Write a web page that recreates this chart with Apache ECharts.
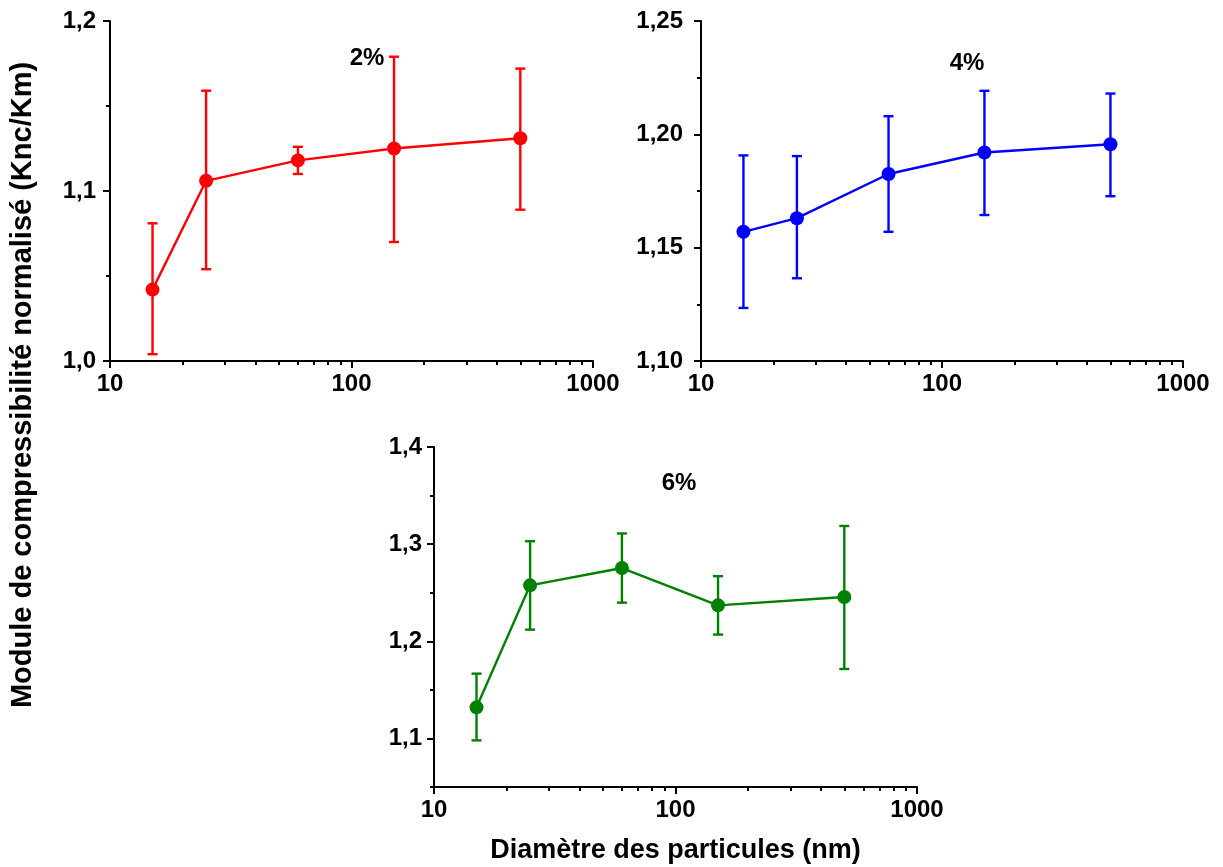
<!DOCTYPE html>
<html>
<head>
<meta charset="utf-8">
<script src="https://cdn.jsdelivr.net/npm/echarts@6/dist/echarts.min.js"></script>
<style>
html,body{margin:0;padding:0;background:#fff;}
#chart{width:1223px;height:867px;}
</style>
</head>
<body>
<div id="chart"></div>
<script>
// ---- data ----
const diameters = [15, 25, 60, 150, 500];

const mean2 = [1.042, 1.106, 1.118, 1.125, 1.131];
const low2  = [1.004, 1.054, 1.110, 1.070, 1.089];
const high2 = [1.081, 1.159, 1.126, 1.179, 1.172];

const mean4 = [1.157, 1.163, 1.1825, 1.192, 1.1956];
const low4  = [1.1234, 1.1365, 1.157, 1.1644, 1.1727];
const high4 = [1.1907, 1.1904, 1.208, 1.2192, 1.218];

const mean6 = [1.132, 1.2576, 1.2754, 1.237, 1.2456];
const low6  = [1.098, 1.212, 1.2398, 1.2069, 1.1715];
const high6 = [1.1667, 1.303, 1.311, 1.267, 1.3187];

const panelLabels = ['2%', '4%', '6%'];
const xTitle = 'Diamètre des particules (nm)';
const yTitle = 'Module de compressibilité normalisé (Knc/Km)';
const yTicks6 = [1.1, 1.2, 1.3, 1.4];

// ---- chart ----
const FONT = '"Liberation Sans", Arial, sans-serif';
const BLACK = '#000';
const colors = ['#ff0000', '#0000ff', '#008000'];

const chart = echarts.init(document.getElementById('chart'), null, {renderer: 'canvas'});

const grids = [
  {left: 110, top: 21, width: 483, height: 340},
  {left: 701, top: 21, width: 482, height: 340},
  {left: 434, top: 447, width: 483, height: 340}
];

function xAxisFor(i) {
  const ax = {
    type: 'log', logBase: 10, gridIndex: i, min: 10, max: 1000,
    axisLine: {lineStyle: {color: BLACK, width: 2}},
    axisTick: {length: 7, lineStyle: {color: BLACK, width: 2}},
    minorTick: {show: true, splitNumber: 9, length: 4, lineStyle: {color: BLACK, width: 2}},
    splitLine: {show: false}, minorSplitLine: {show: false},
    axisLabel: {color: BLACK, fontSize: 24, fontWeight: 'bold', fontFamily: FONT, margin: 11,
      formatter: v => String(Math.round(v))}
  };
  if (i === 2) {
    ax.name = xTitle;
    ax.nameLocation = 'middle';
    ax.nameGap = 50;
    ax.nameTextStyle = {color: BLACK, fontSize: 27, fontWeight: 'bold', fontFamily: FONT};
  }
  return ax;
}

const yBase = {
  type: 'value', position: 'left',
  axisLine: {show: true, lineStyle: {color: BLACK, width: 2}},
  axisTick: {show: true, length: 7, lineStyle: {color: BLACK, width: 2}},
  splitLine: {show: false}, minorSplitLine: {show: false}
};
const yLab = (m, d) => ({color: BLACK, fontSize: 24, fontWeight: 'bold', fontFamily: FONT, margin: m,
  formatter: v => Number(v).toFixed(d).replace('.', ',')});

const yAxes = [
  Object.assign({}, yBase, {gridIndex: 0, min: 1.0, max: 1.2, interval: 0.1,
    minorTick: {show: true, splitNumber: 2, length: 4, lineStyle: {color: BLACK, width: 2}},
    axisLabel: yLab(14, 1)}),
  Object.assign({}, yBase, {gridIndex: 1, min: 1.10, max: 1.25, interval: 0.05,
    minorTick: {show: true, splitNumber: 2, length: 4, lineStyle: {color: BLACK, width: 2}},
    axisLabel: yLab(18, 2)}),
  Object.assign({}, yBase, {gridIndex: 2, min: 1.05, max: 1.4,
    axisTick: {show: true, length: 7, customValues: yTicks6, lineStyle: {color: BLACK, width: 2}},
    axisLabel: Object.assign(yLab(12, 1), {customValues: yTicks6})}),
  // minor ticks for panel 3
  {type: 'value', gridIndex: 2, position: 'left', offset: 0, min: 1.05, max: 1.4, interval: 0.05,
    axisLine: {show: false}, axisLabel: {show: false}, splitLine: {show: false},
    axisTick: {show: true, length: 4, lineStyle: {color: BLACK, width: 2}}}
];

const means = [mean2, mean4, mean6];
const lows = [low2, low4, low6];
const highs = [high2, high4, high6];

const series = [];
for (let i = 0; i < 3; i++) {
  const col = colors[i];
  const errData = diameters.map((d, k) => [d, lows[i][k], highs[i][k]]);
  series.push({
    type: 'custom', xAxisIndex: i, yAxisIndex: i, z: 2,
    data: errData,
    encode: {x: 0, y: [1, 2]},
    renderItem: function (params, api) {
      const x = api.value(0);
      const pLo = api.coord([x, api.value(1)]);
      const pHi = api.coord([x, api.value(2)]);
      const hw = 5;
      const style = {stroke: col, lineWidth: 2.4};
      return {type: 'group', children: [
        {type: 'line', shape: {x1: pLo[0], y1: pLo[1], x2: pHi[0], y2: pHi[1]}, style: style},
        {type: 'line', shape: {x1: pLo[0] - hw, y1: pLo[1], x2: pLo[0] + hw, y2: pLo[1]}, style: style},
        {type: 'line', shape: {x1: pHi[0] - hw, y1: pHi[1], x2: pHi[0] + hw, y2: pHi[1]}, style: style}
      ]};
    }
  });
  series.push({
    type: 'line', xAxisIndex: i, yAxisIndex: i, z: 3,
    data: diameters.map((d, k) => [d, means[i][k]]),
    symbol: 'circle', symbolSize: 14,
    itemStyle: {color: col},
    lineStyle: {color: col, width: 2.4}
  });
}

const option = {
  backgroundColor: '#ffffff',
  animation: false,
  grid: grids,
  xAxis: [0, 1, 2].map(xAxisFor),
  yAxis: yAxes,
  series: series,
  graphic: [
    {type: 'text', x: 367, y: 58, style: {text: panelLabels[0], font: 'bold 24px ' + FONT, fill: BLACK, textAlign: 'center', textVerticalAlign: 'middle'}},
    {type: 'text', x: 967, y: 63, style: {text: panelLabels[1], font: 'bold 24px ' + FONT, fill: BLACK, textAlign: 'center', textVerticalAlign: 'middle'}},
    {type: 'text', x: 679, y: 483, style: {text: panelLabels[2], font: 'bold 24px ' + FONT, fill: BLACK, textAlign: 'center', textVerticalAlign: 'middle'}},
    {type: 'text', x: 23, y: 385, rotation: Math.PI / 2, style: {text: yTitle, font: 'bold 29px ' + FONT, fill: BLACK, textAlign: 'center', textVerticalAlign: 'middle'}}
  ]
};
chart.setOption(option);
</script>
</body>
</html>
